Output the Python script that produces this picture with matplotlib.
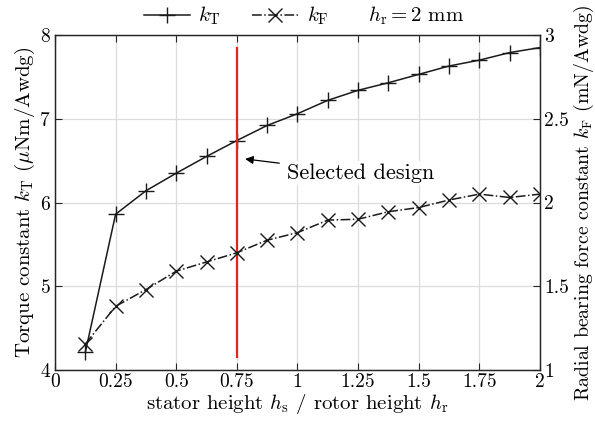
import matplotlib
matplotlib.use("Agg")
import matplotlib.pyplot as plt
from matplotlib.lines import Line2D

plt.rcParams['font.family'] = ['cmr10', 'DejaVu Serif']
plt.rcParams['mathtext.fontset'] = 'cm'
plt.rcParams['axes.formatter.use_mathtext'] = True
plt.rcParams['axes.unicode_minus'] = False

# height ratio h_s / h_r
ratio = [0.125, 0.25, 0.375, 0.5, 0.625, 0.75, 0.875, 1.0, 1.125, 1.25,
         1.375, 1.5, 1.625, 1.75, 1.875, 2.0]
# torque constant (uNm/Awdg)
k_T = [4.21, 5.86, 6.14, 6.35, 6.55, 6.74, 6.92, 7.06, 7.22, 7.34,
       7.43, 7.53, 7.63, 7.70, 7.79, 7.85]
# radial bearing force constant (mN/Awdg)
k_F = [1.155, 1.38, 1.48, 1.59, 1.645, 1.70, 1.775, 1.82, 1.895, 1.90,
       1.945, 1.97, 2.015, 2.05, 2.03, 2.05]

x_ticks = [0, 0.25, 0.5, 0.75, 1, 1.25, 1.5, 1.75, 2]
x_ticklabels = ['0', '0.25', '0.5', '0.75', '1', '1.25', '1.5', '1.75', '2']
left_ticks = [4, 5, 6, 7, 8]
right_ticks = [1, 1.5, 2, 2.5, 3]
right_ticklabels = ['1', '1.5', '2', '2.5', '3']

selected_ratio = 0.75
selected_span = [4.16, 7.84]

tfs = 14   # tick labels
lfs = 15   # axis labels / legend
fig = plt.figure(figsize=(5.95, 4.24), dpi=100)
ax = fig.add_axes([0.0924, 0.1274, 0.8151, 0.790])
ax2 = ax.twinx()

ax.set_xlim(0, 2)
ax.set_ylim(4, 8)
ax2.set_ylim(1, 3)

ax.grid(True, color='#dcdcdc', linewidth=0.9)
ax.set_axisbelow(True)

ax.set_xticks(x_ticks)
ax.set_xticklabels(x_ticklabels)
ax.set_yticks(left_ticks)
ax2.set_yticks(right_ticks)
ax2.set_yticklabels(right_ticklabels)

for a in (ax, ax2):
    a.tick_params(direction='in', labelsize=tfs, length=5, width=0.8,
                  color='#262626', pad=3)
    for s in a.spines.values():
        s.set_color('#262626')
        s.set_linewidth(0.9)
ax.tick_params(axis='x', top=True, pad=2)

ax.plot(ratio, k_T, color='#1a1a1a', linestyle='-', linewidth=1.1,
        marker='+', markersize=12, markeredgewidth=1.0)
ax2.plot(ratio, k_F, color='#1a1a1a', linestyle='-.', linewidth=1.1,
         marker='x', markersize=10, markeredgewidth=1.0)

ax.plot([selected_ratio, selected_ratio], selected_span, color='#e8231f',
        linewidth=1.6, zorder=3)

ax.annotate('Selected design', xy=(0.784, 6.52), xytext=(0.957, 6.35),
            fontsize=16, va='center', ha='left',
            bbox=dict(boxstyle='square,pad=0.1', fc='white', ec='none'),
            arrowprops=dict(arrowstyle='-|>', color='black', lw=0.9,
                            mutation_scale=12, shrinkA=4, shrinkB=0))

ax.set_xlabel(r'stator height $h_\mathrm{s}$ / rotor height $h_\mathrm{r}$',
              fontsize=lfs, labelpad=1)
ax.set_ylabel(r'Torque constant $k_\mathrm{T}$ ($\mu$Nm/Awdg)', fontsize=lfs,
              labelpad=2)
ax2.set_ylabel(r'Radial bearing force constant $k_\mathrm{F}$ (mN/Awdg)',
               fontsize=14.3, labelpad=2)

handles = [
    Line2D([], [], color='#1a1a1a', linestyle='-', linewidth=1.1, marker='+',
           markersize=12, markeredgewidth=1.0),
    Line2D([], [], color='#1a1a1a', linestyle='-.', linewidth=1.1, marker='x',
           markersize=10, markeredgewidth=1.0),
]
fig.legend(handles, [r'$k_\mathrm{T}$', r'$k_\mathrm{F}$'], ncol=2,
           loc='center', bbox_to_anchor=(0.397, 0.962), frameon=False,
           fontsize=lfs, handlelength=2.2, columnspacing=1.5,
           handletextpad=0.4)
fig.text(0.618, 0.962, r'$h_\mathrm{r} = 2$ mm', fontsize=lfs,
         ha='left', va='center')

fig.savefig('out.png', dpi=100)
